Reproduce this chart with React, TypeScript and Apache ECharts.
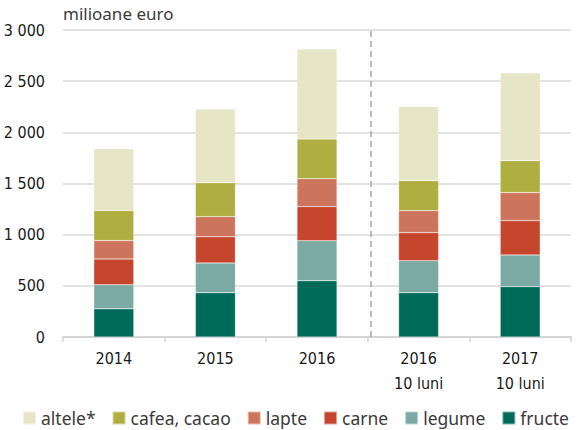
import React, { useEffect, useRef } from "react";
import * as echarts from "echarts";

const categories = ["2014", "2015", "2016", "2016\n10 luni", "2017\n10 luni"];
const fructe = [275, 433, 550, 433, 492];
const legume = [235, 290, 391, 313, 310];
const carne = [252, 257, 333, 274, 335];
const lapte = [180, 196, 273, 215, 274];
const cafea = [294, 332, 388, 293, 312];
const altele = [603, 721, 880, 723, 858];
const yTicks = [0, 500, 1000, 1500, 2000, 2500, 3000];
const unitLabel = "milioane euro";

const seriesDefs = [
  { name: "fructe", data: fructe, color: "#006a58" },
  { name: "legume", data: legume, color: "#7aaaa3" },
  { name: "carne", data: carne, color: "#c5452d" },
  { name: "lapte", data: lapte, color: "#cd755c" },
  { name: "cafea, cacao", data: cafea, color: "#afae41" },
  { name: "altele*", data: altele, color: "#e6e5c6" },
];

const CONDENSED = "'DejaVu Sans Condensed', 'Liberation Sans Narrow', 'Arial Narrow', sans-serif";

export default function App() {
  const ref = useRef<HTMLDivElement>(null);
  useEffect(() => {
    if (!ref.current) return;
    const chart = echarts.init(ref.current, null, { renderer: "svg" });
    const fmt = (v: number) => {
      const s = String(v);
      return s.length > 3 ? s.slice(0, s.length - 3) + " " + s.slice(-3) : s;
    };
    chart.setOption({
      animation: false,
      grid: { left: 63, right: 8, top: 30, bottom: 93, containLabel: false },
      legend: {
        data: ["altele*", "cafea, cacao", "lapte", "carne", "legume", "fructe"],
        left: 22,
        top: 409,
        padding: 0,
        icon: "rect",
        itemWidth: 13,
        itemHeight: 13,
        itemGap: 16,
        textStyle: { fontFamily: "Noto Sans", fontSize: 17.5, lineHeight: 18, color: "#3a3a3a" },
      },
      graphic: [
        {
          type: "text",
          left: 63,
          top: 5,
          style: { text: unitLabel, fontFamily: "Noto Sans", fontSize: 17, fill: "#3a3a3a" },
        },
      ],
      xAxis: [
        {
          type: "category",
          data: categories,
          axisLine: { lineStyle: { color: "#d4d4d4", width: 2 } },
          axisTick: { show: true, length: 5, lineStyle: { color: "#d4d4d4", width: 1.5 } },
          axisLabel: {
            fontFamily: CONDENSED,
            fontSize: 16,
            color: "#1a1a1a",
            lineHeight: 25,
            margin: 9,
          },
        },
        { type: "value", min: 0, max: 5, show: false },
      ],
      yAxis: {
        type: "value",
        min: 0,
        max: 3000,
        interval: 500,
        axisLine: { show: false },
        axisTick: { show: false },
        splitLine: { lineStyle: { color: "#d9d9d9", width: 1.5 } },
        axisLabel: {
          fontFamily: CONDENSED,
          fontSize: 16,
          color: "#1a1a1a",
          margin: 18,
          formatter: (v: number) => (yTicks.includes(v) ? fmt(v) : ""),
        },
      },
      series: [
        ...seriesDefs.map((s) => ({
          name: s.name,
          type: "bar",
          stack: "total",
          data: s.data,
          barWidth: 40,
          itemStyle: { color: s.color, borderColor: "rgba(255,255,255,0.5)", borderWidth: 0.5 },
        })),
        {
          name: "divider",
          type: "line",
          xAxisIndex: 1,
          data: [],
          silent: true,
          markLine: {
            silent: true,
            symbol: "none",
            label: { show: false },
            lineStyle: { type: [6, 4], color: "#a6a6a6", width: 1.5 },
            data: [{ xAxis: 3.03 }],
          },
        },
      ],
    });
    return () => chart.dispose();
  }, []);
  return <div ref={ref} style={{ position: "absolute", left: 0, top: 0, width: 579, height: 430 }} />;
}
